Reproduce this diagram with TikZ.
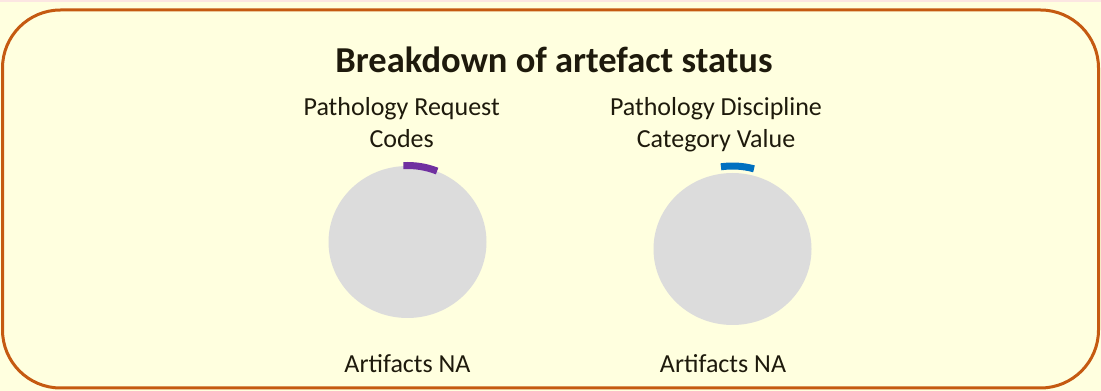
\documentclass[tikz,border=0pt]{standalone}
\usepackage{fontspec}
\setmainfont{Carlito}
\usetikzlibrary{shapes.geometric,positioning}
\definecolor{boxline}{HTML}{C55A11}
\definecolor{boxfill}{HTML}{FFFFDF}
\definecolor{piegray}{HTML}{DCDCDC}
\definecolor{piepurple}{HTML}{7030A0}
\definecolor{pieblue}{HTML}{0070C0}
\definecolor{inktext}{HTML}{1E1A0C}
\definecolor{topstrip}{HTML}{FCE6E2}
\tikzset{%
  pie/.style={ellipse, fill=piegray, minimum width=158pt, minimum height=152pt, inner sep=0pt},
  caption/.style={font=\fontsize{26}{32}\selectfont, text=inktext, align=center, inner sep=0pt},
  status arc/.style={line width=7pt}
}
\begin{document}
\begin{tikzpicture}[x=1pt,y=1pt]
    \useasboundingbox (0,0) rectangle (1101,391);
    \fill[boxfill] (0,0) rectangle (1101,391);
    \fill[topstrip] (0,389) rectangle (1101,391);
    \draw[boxline, line width=3pt, rounded corners=58pt] (2.5,3) rectangle (1098.5,381);

    \node[anchor=base, font=\bfseries\fontsize{36.5}{44}\selectfont, text=inktext, inner sep=0pt] (title) at (554,318.7) {Breakdown of artefact status};

    % the two pies
    \node[pie] (pieA) at (407.5,149) {};
    \node[pie] (pieB) at (732.5,142) {};

    \draw[status arc, piepurple] ([shift={(93:79 and 76.5)}]pieA.center) arc[start angle=93, end angle=68, x radius=79, y radius=76.5];
    \draw[status arc, pieblue] ([shift={(98:83 and 83)}]pieB.center) arc[start angle=98, end angle=75, x radius=83, y radius=83];

    % base anchor sits on the last line
    \node[caption, anchor=base] (nameA) at (401.7,243) {Pathology Request\\Codes};
    \node[caption, anchor=base] (nameB) at (716,243) {Pathology Discipline\\Category Value};

    \node[caption, anchor=base] (countA) at (407.5,18.7) {Artifacts NA};
    \node[caption, anchor=base] (countB) at (723,18.7) {Artifacts NA};
\end{tikzpicture}
\end{document}
